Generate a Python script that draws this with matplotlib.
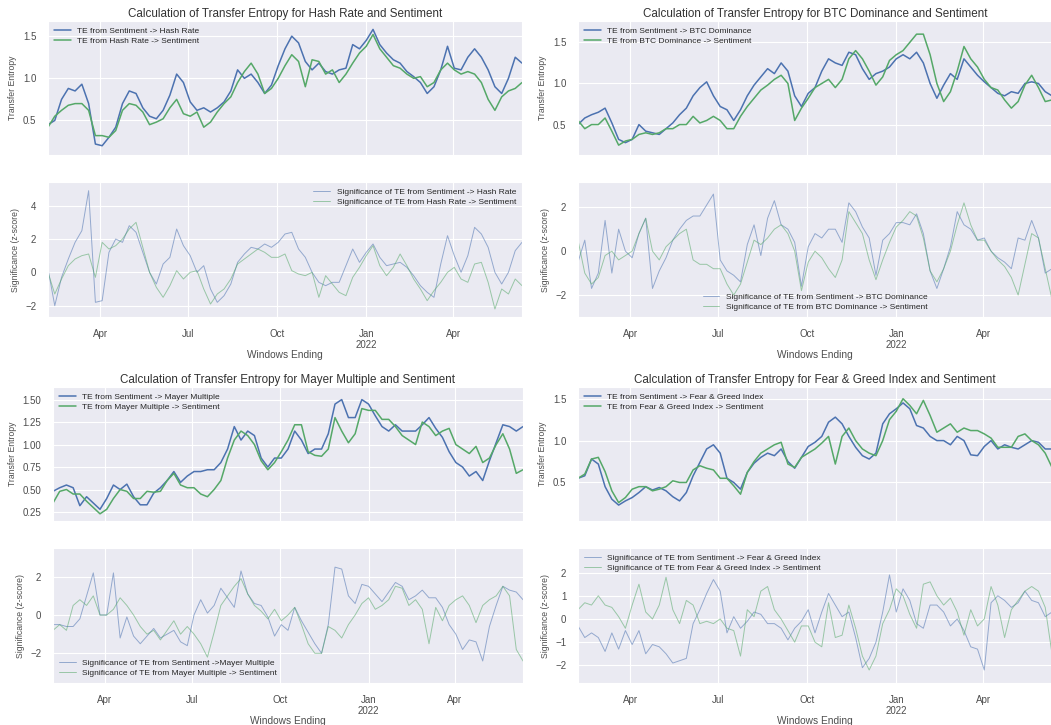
import numpy as np
import pandas as pd
import matplotlib
matplotlib.use('Agg')
import matplotlib.pyplot as plt
import matplotlib.dates as mdates
from matplotlib.ticker import FuncFormatter
import seaborn as sns

sns.set_style('darkgrid')
plt.rcParams['font.family'] = ['Liberation Sans', 'DejaVu Sans']

# weekly window end dates
dates = pd.date_range('2021-02-06', periods=71, freq='7D')

# --- Hash Rate ---
te_sent_hash = [0.45, 0.5, 0.75, 0.88, 0.85, 0.93, 0.7, 0.22, 0.2, 0.3,
                0.42, 0.7, 0.85, 0.82, 0.65, 0.55, 0.52, 0.62, 0.8, 1.05,
                0.95, 0.72, 0.62, 0.65, 0.6, 0.65, 0.72, 0.85, 1.1, 1.0,
                1.05, 0.95, 0.82, 0.92, 1.15, 1.35, 1.5, 1.42, 1.2, 1.1,
                1.18, 1.08, 1.05, 1.1, 1.12, 1.4, 1.35, 1.45, 1.58, 1.4,
                1.3, 1.22, 1.18, 1.08, 1.02, 0.95, 0.82, 0.9, 1.1, 1.38,
                1.12, 1.1, 1.25, 1.35, 1.25, 1.1, 0.9, 0.82, 1.0, 1.25,
                1.18]
te_hash_sent = [0.42, 0.55, 0.62, 0.68, 0.7, 0.7, 0.62, 0.32, 0.32, 0.3,
                0.38, 0.62, 0.7, 0.68, 0.6, 0.45, 0.48, 0.52, 0.65, 0.75,
                0.58, 0.55, 0.6, 0.42, 0.48, 0.6, 0.7, 0.78, 0.95, 1.08,
                1.18, 1.05, 0.82, 0.88, 1.0, 1.15, 1.28, 1.2, 0.9, 1.22,
                1.2, 1.05, 1.1, 0.95, 1.05, 1.18, 1.3, 1.38, 1.52, 1.35,
                1.25, 1.15, 1.12, 1.05, 1.0, 1.02, 0.9, 0.95, 1.1, 1.18,
                1.1, 1.05, 1.08, 1.05, 0.95, 0.75, 0.62, 0.78, 0.85, 0.88,
                0.95]
z_sent_hash = [0.2, -2.0, -0.3, 0.8, 1.8, 2.5, 4.9, -1.8, -1.7, 1.2,
               2.0, 1.8, 2.8, 2.4, 1.2, 0.0, -0.7, 0.5, 0.9, 2.6,
               1.6, 1.0, 0.0, 0.4, -1.0, -1.8, -1.4, -0.7, 0.6, 1.1,
               1.5, 1.4, 1.7, 1.5, 1.8, 2.3, 2.4, 1.4, 0.9, 0.0,
               -0.6, -0.8, -0.6, -0.6, 0.4, 1.4, 0.6, 1.2, 1.7, 0.9,
               0.4, 0.5, 0.6, 0.3, -0.2, -0.8, -1.2, -1.5, 0.5, 2.2,
               1.0, 0.0, 1.0, 2.7, 2.3, 1.5, 0.0, -0.7, 0.0, 1.3,
               1.8]
z_hash_sent = [0.0, -1.3, -0.4, 0.4, 0.8, 1.0, 1.1, -0.3, 1.8, 1.4,
               1.6, 2.0, 2.6, 3.0, 1.5, 0.0, -0.9, -1.5, -0.8, 0.1,
               -0.4, 0.0, 0.1, -1.0, -1.9, -1.3, -1.0, -0.4, 0.5, 0.8,
               1.1, 1.4, 1.2, 0.9, 0.9, 1.1, 0.1, -0.1, -0.2, 0.0,
               -1.5, -0.2, -0.7, -1.2, -1.4, -0.3, 0.3, 1.0, 1.6, 0.4,
               -0.2, 0.3, 1.1, 0.4, -0.4, -1.0, -1.7, -1.1, -0.6, 0.0,
               0.3, -0.4, -0.6, 0.5, 0.6, -0.6, -2.2, -1.0, -1.3, -0.4,
               -0.8]

# --- BTC Dominance ---
te_sent_dom = [0.5, 0.58, 0.62, 0.65, 0.7, 0.52, 0.32, 0.28, 0.32, 0.5,
               0.42, 0.4, 0.38, 0.45, 0.52, 0.62, 0.7, 0.85, 0.95, 1.02,
               0.85, 0.72, 0.68, 0.55, 0.68, 0.85, 0.98, 1.08, 1.18, 1.12,
               1.25, 1.15, 0.85, 0.72, 0.88, 0.95, 1.15, 1.3, 1.25, 1.22,
               1.38, 1.35, 1.18, 1.05, 1.12, 1.15, 1.2, 1.3, 1.35, 1.3,
               1.38, 1.25, 1.0, 0.82, 0.98, 1.12, 1.05, 1.3, 1.2, 1.1,
               1.02, 0.95, 0.88, 0.85, 0.9, 0.88, 1.0, 1.02, 1.0, 0.9,
               0.85]
te_dom_sent = [0.55, 0.45, 0.5, 0.5, 0.58, 0.42, 0.25, 0.3, 0.32, 0.38,
               0.4, 0.38, 0.4, 0.45, 0.45, 0.5, 0.5, 0.6, 0.52, 0.55,
               0.6, 0.55, 0.45, 0.45, 0.6, 0.72, 0.82, 0.92, 0.98, 1.05,
               1.1, 1.0, 0.55, 0.7, 0.82, 0.95, 1.0, 1.05, 0.95, 1.05,
               1.3, 1.4, 1.3, 1.15, 0.98, 1.08, 1.28, 1.35, 1.4, 1.5,
               1.6, 1.6, 1.35, 1.0, 0.78, 0.9, 1.15, 1.45, 1.3, 1.2,
               1.05, 0.95, 0.92, 0.8, 0.7, 0.78, 0.98, 1.1, 0.95, 0.78,
               0.8]
z_sent_dom = [-0.5, 0.5, -1.7, -1.0, 1.4, -1.0, 1.0, 0.0, -0.3, 0.8,
              1.5, -1.7, -0.9, -0.3, 0.5, 1.0, 1.4, 1.6, 1.6, 2.1,
              2.6, -0.4, -0.9, -1.1, -1.4, 0.3, 1.2, -0.2, 1.5, 2.3,
              1.2, 1.0, 0.4, -1.6, 0.2, 0.8, 0.6, 1.0, 1.0, 0.4,
              2.2, 1.8, 1.1, 0.6, -1.1, 0.5, 0.8, 1.3, 1.3, 1.2,
              1.7, 0.8, -0.9, -1.7, -0.8, 0.2, 1.8, 1.2, 1.0, 0.5,
              0.6, 0.0, -0.3, -0.5, -0.8, 0.6, 0.5, 1.4, 0.6, -1.0,
              -0.8]
z_dom_sent = [0.5, -1.0, -1.5, -1.2, -0.2, 0.0, -0.4, -0.2, 0.0, 0.8,
              1.5, 0.0, -0.4, 0.2, 0.5, 0.8, 1.0, -0.4, -0.6, -0.6,
              -0.8, -0.8, -1.5, -2.0, -1.5, -0.5, 0.5, 0.3, 0.6, 1.0,
              1.2, 0.8, 0.0, -1.8, -0.5, 0.0, -0.3, -0.8, -1.2, -0.4,
              1.8, 1.3, 0.8, -0.4, -1.3, -0.4, 0.4, 1.1, 1.4, 1.8,
              1.6, 0.6, -0.9, -1.4, -0.8, 0.0, 1.2, 2.2, 1.2, 0.5,
              0.5, 0.0, -0.4, -0.7, -1.2, -2.0, -0.6, 0.8, 0.6, -0.8,
              -2.2]

# --- Mayer Multiple ---
te_sent_mayer = [0.48, 0.52, 0.55, 0.52, 0.32, 0.42, 0.35, 0.28, 0.4, 0.55,
                 0.5, 0.56, 0.42, 0.33, 0.33, 0.46, 0.52, 0.6, 0.7, 0.58,
                 0.65, 0.7, 0.7, 0.72, 0.72, 0.8, 0.95, 1.2, 1.05, 1.15,
                 1.1, 0.85, 0.75, 0.85, 0.85, 0.95, 1.15, 1.05, 0.9, 0.95,
                 0.95, 1.12, 1.45, 1.5, 1.3, 1.3, 1.5, 1.45, 1.32, 1.2,
                 1.15, 1.22, 1.15, 1.15, 1.15, 1.22, 1.3, 1.18, 1.08, 0.92,
                 0.8, 0.75, 0.65, 0.7, 0.6, 0.82, 1.02, 1.22, 1.2, 1.15,
                 1.2]
te_mayer_sent = [0.35, 0.48, 0.5, 0.45, 0.45, 0.37, 0.3, 0.23, 0.28, 0.4,
                 0.5, 0.48, 0.4, 0.4, 0.48, 0.47, 0.48, 0.6, 0.68, 0.55,
                 0.52, 0.52, 0.45, 0.42, 0.5, 0.6, 0.85, 1.05, 1.15, 1.1,
                 1.0, 0.82, 0.72, 0.8, 0.92, 1.05, 1.22, 1.22, 0.92, 0.88,
                 0.87, 0.95, 1.3, 1.15, 1.02, 1.12, 1.4, 1.38, 1.38, 1.28,
                 1.28, 1.2, 1.1, 1.05, 1.0, 1.25, 1.2, 1.1, 1.15, 1.18,
                 1.0, 0.95, 0.9, 0.98, 0.8, 0.85, 1.0, 1.12, 0.95, 0.68,
                 0.72]
z_sent_mayer = [-0.5, -0.5, -0.6, -0.6, -0.2, 1.0, 2.2, 0.0, 0.0, 2.2,
                -1.2, -0.1, -1.1, -1.5, -1.1, -0.7, -1.2, -1.0, -0.8, -1.4,
                -1.6, 0.0, 0.8, 0.1, 0.5, 1.4, 0.9, 0.4, 2.3, 1.1,
                0.6, 0.5, -0.1, -1.1, -0.5, -0.8, 0.4, -0.3, -0.9, -1.5,
                -2.0, -0.5, 2.5, 2.4, 1.0, 0.6, 1.6, 1.5, 1.1, 0.7,
                1.2, 1.7, 1.5, 0.8, 1.0, 1.3, 0.9, 0.9, 0.4, -0.5,
                -1.0, -1.8, -1.3, -1.4, -2.4, -0.6, 0.5, 1.5, 1.3, 1.2,
                0.8]
z_mayer_sent = [-0.8, -0.5, -0.8, 0.5, 0.8, 0.5, 1.0, 0.0, 0.0, 0.3,
                0.9, 0.5, 0.0, -0.6, -1.0, -0.8, -1.3, -0.8, -0.3, -1.0,
                -0.6, -1.0, -1.5, -2.2, -0.9, 0.5, 1.0, 1.5, 1.9, 1.1,
                0.5, 0.2, -0.2, 0.3, -0.3, 0.0, 0.4, -0.5, -1.5, -2.0,
                -2.0, -0.6, -0.8, -1.2, -0.5, 0.0, 0.6, 0.9, 0.3, 0.5,
                0.8, 1.5, 1.4, 0.5, 0.8, 0.3, -1.5, 0.4, -0.3, 0.5,
                0.8, 1.0, 0.5, -0.4, 0.5, 0.8, 1.0, 1.5, 1.0, -1.8,
                -2.4]

# --- Fear & Greed Index ---
te_sent_fng = [0.55, 0.58, 0.78, 0.72, 0.45, 0.3, 0.23, 0.28, 0.32, 0.38,
               0.45, 0.41, 0.44, 0.4, 0.33, 0.28, 0.38, 0.58, 0.74, 0.9,
               0.95, 0.85, 0.55, 0.5, 0.42, 0.62, 0.73, 0.8, 0.85, 0.82,
               0.9, 0.75, 0.67, 0.8, 0.93, 0.98, 1.05, 1.22, 1.28, 1.2,
               1.05, 0.92, 0.82, 0.78, 0.85, 1.2, 1.32, 1.38, 1.45, 1.38,
               1.18, 1.15, 1.05, 1.0, 1.0, 0.95, 1.05, 1.0, 0.83, 0.82,
               0.93, 1.0, 0.9, 0.95, 0.92, 0.9, 0.95, 1.0, 0.98, 0.9,
               0.9]
te_fng_sent = [0.55, 0.6, 0.78, 0.8, 0.63, 0.4, 0.26, 0.32, 0.42, 0.45,
               0.45, 0.4, 0.42, 0.45, 0.52, 0.5, 0.5, 0.65, 0.7, 0.67,
               0.65, 0.55, 0.55, 0.46, 0.36, 0.62, 0.75, 0.85, 0.9, 0.95,
               0.98, 0.72, 0.68, 0.8, 0.85, 0.9, 0.97, 1.05, 0.72, 1.05,
               1.15, 1.0, 0.9, 0.85, 0.82, 1.0, 1.25, 1.35, 1.5, 1.42,
               1.32, 1.48, 1.3, 1.1, 1.15, 1.2, 1.1, 1.15, 1.12, 1.12,
               1.08, 1.03, 0.92, 0.92, 0.92, 1.05, 1.08, 1.0, 0.95, 0.85,
               0.68]
z_sent_fng = [-0.3, -0.8, -0.6, -0.8, -1.4, -0.6, -1.3, -0.5, -1.1, -0.5,
              -1.5, -1.1, -1.2, -1.5, -1.9, -1.8, -1.7, -0.2, 0.4, 1.1,
              1.7, 1.2, -0.6, 0.1, -0.4, -0.1, 0.3, 0.2, -0.2, -0.2,
              -0.4, -0.9, -0.4, -0.1, 0.4, -0.6, 0.3, 1.1, 0.6, 0.1,
              0.3, -0.8, -2.1, -1.7, -1.0, 0.3, 1.9, 0.3, 1.3, 0.8,
              -0.2, -0.4, 0.6, 0.6, 0.3, -0.3, 0.0, -0.5, -1.2, -1.3,
              -2.2, 0.7, 1.0, 0.8, 0.5, 0.7, 1.2, 0.8, 0.7, 0.1,
              0.3]
z_fng_sent = [0.4, 0.7, 0.6, 1.0, 0.6, 0.5, 0.1, -0.4, 0.6, 1.5,
              0.3, 0.0, 0.6, 1.8, 0.4, -0.2, 0.8, 0.6, -0.2, -0.1,
              -0.2, 0.0, -0.4, -0.5, -1.6, 0.4, 0.1, 1.2, 1.4, 0.4,
              0.0, -0.5, -1.0, -0.3, -0.3, -1.0, -1.2, 0.7, -0.8, -0.7,
              0.6, -0.4, -1.6, -2.2, -1.6, -0.2, 0.4, 1.3, 1.0, 0.2,
              -0.4, 1.5, 1.6, 1.0, 0.6, 0.9, 0.3, -0.7, 0.4, -0.3,
              0.0, 1.4, 0.6, -0.8, 0.4, 0.8, 1.2, 1.4, 1.2, 0.5,
              -1.5]

BLUE = '#4C72B0'
GREEN = '#55A868'
W = 1051.0
H = 725.0


def box(left, top, right, bottom):
    # pixel box -> figure fraction
    return [left / W, 1 - bottom / H, (right - left) / W, (bottom - top) / H]


def month_label(x, pos):
    d = mdates.num2date(x)
    s = d.strftime('%b')
    if d.month == 1:
        s += '\n' + str(d.year)
    return s


def style_axis(ax):
    ax.set_xlim(dates[0], dates[-1])
    ax.xaxis.set_major_locator(mdates.MonthLocator(bymonth=[1, 4, 7, 10]))
    ax.xaxis.set_major_formatter(FuncFormatter(month_label))
    ax.tick_params(axis='both', labelsize=7, colors='.3', pad=5)


def draw_pair(fig, x0, x1, y0, name, te_a, te_b, z_a, z_b, te_ticks, z_ticks,
              te_lim, z_lim, z_loc, z_label_a=None):
    ax_te = fig.add_axes(box(x0, y0, x1, y0 + 134))
    ax_z = fig.add_axes(box(x0, y0 + 161, x1, y0 + 296))

    ax_te.plot(dates, te_a, color=BLUE, lw=1.1, label='TE from Sentiment -> ' + name)
    ax_te.plot(dates, te_b, color=GREEN, lw=1.1, label='TE from ' + name + ' -> Sentiment')
    style_axis(ax_te)
    ax_te.set_xticklabels([])
    ax_te.set_yticks(te_ticks)
    ax_te.set_ylim(te_lim)
    ax_te.set_ylabel('Transfer Entropy', fontsize=6.2, color='.3')
    ax_te.set_title('Calculation of Transfer Entropy for ' + name + ' and Sentiment',
                    fontsize=8.4, color='.2', pad=3)
    ax_te.legend(loc='upper left', fontsize=6, frameon=False,
                 borderaxespad=0.3, labelspacing=0.3)

    if z_label_a is None:
        z_label_a = 'Significance of TE from Sentiment -> ' + name
    ax_z.plot(dates, z_a, color=BLUE, lw=0.7, alpha=0.55, label=z_label_a)
    ax_z.plot(dates, z_b, color=GREEN, lw=0.7, alpha=0.55,
              label='Significance of TE from ' + name + ' -> Sentiment')
    style_axis(ax_z)
    ax_z.set_yticks(z_ticks)
    ax_z.set_ylim(z_lim)
    for t in ax_z.get_xticklabels():
        t.set_horizontalalignment('center')
    ax_z.set_ylabel('Significance (z-score)', fontsize=6.2, color='.3')
    ax_z.set_xlabel('Windows Ending', fontsize=7.3, color='.3', labelpad=0)
    ax_z.legend(loc=z_loc, fontsize=6, frameon=False,
                borderaxespad=0.3, labelspacing=0.3)


fig = plt.figure(figsize=(10.51, 7.25), dpi=100)

draw_pair(fig, 48, 522, 21, 'Hash Rate', te_sent_hash, te_hash_sent,
          z_sent_hash, z_hash_sent, [0.5, 1.0, 1.5], [-2, 0, 2, 4],
          (0.09, 1.68), (-2.68, 5.42), 'upper right')
draw_pair(fig, 578, 1052, 21, 'BTC Dominance', te_sent_dom, te_dom_sent,
          z_sent_dom, z_dom_sent, [0.5, 1.0, 1.5], [-2, 0, 2],
          (0.13, 1.76), (-3.0, 3.15), 'lower center')
draw_pair(fig, 53, 523, 387, 'Mayer Multiple', te_sent_mayer, te_mayer_sent,
          z_sent_mayer, z_mayer_sent, [0.25, 0.5, 0.75, 1.0, 1.25, 1.5], [-2, 0, 2],
          (0.15, 1.64), (-3.55, 3.5), 'lower left',
          z_label_a='Significance of TE from Sentiment ->Mayer Multiple')
draw_pair(fig, 578, 1052, 387, 'Fear & Greed Index', te_sent_fng, te_fng_sent,
          z_sent_fng, z_fng_sent, [0.5, 1.0, 1.5], [-2, -1, 0, 1, 2],
          (0.04, 1.64), (-2.76, 3.06), 'upper left')

fig.savefig('out.png', dpi=100)
